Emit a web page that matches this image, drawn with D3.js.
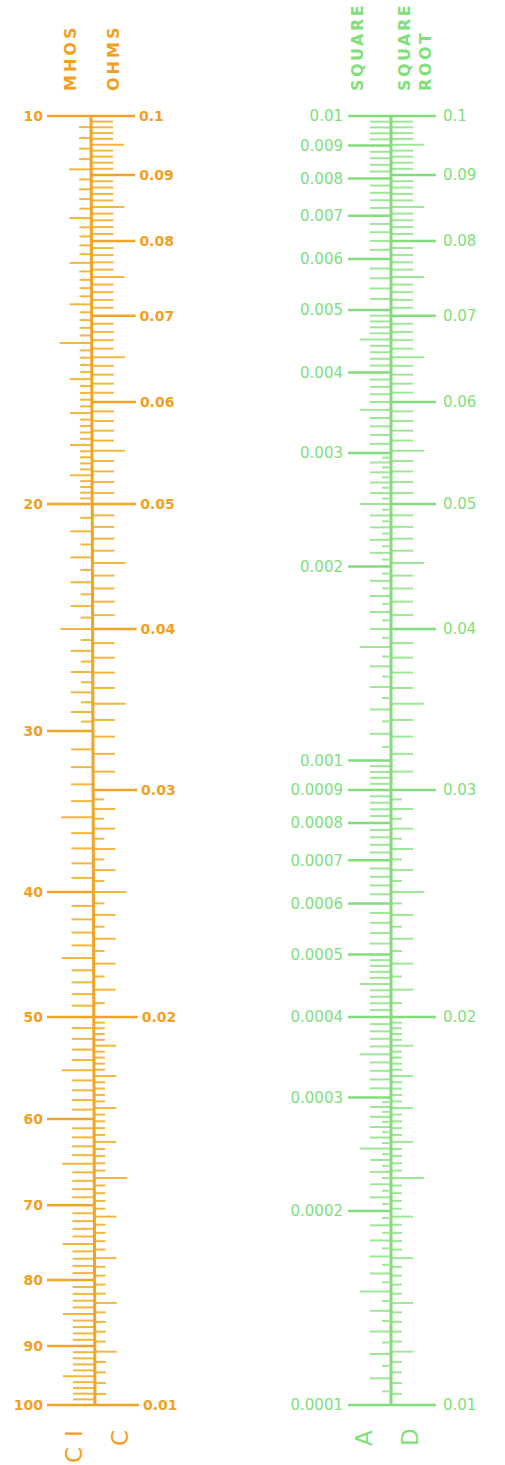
<!DOCTYPE html>
<html><head><meta charset="utf-8">
<script src="https://cdn.jsdelivr.net/npm/d3@7"></script>
<style>body{margin:0;background:#fff} svg{display:block}</style>
</head><body>
<svg id="c" width="505" height="1465"></svg>
<script>
// ---- labelled values ----
const mhosLabels   = [10, 20, 30, 40, 50, 60, 70, 80, 90, 100];
const ohmsLabels   = [0.1, 0.09, 0.08, 0.07, 0.06, 0.05, 0.04, 0.03, 0.02, 0.01];
const squareLabels = [0.01, 0.009, 0.008, 0.007, 0.006, 0.005, 0.004, 0.003, 0.002, 0.001,
                      0.0009, 0.0008, 0.0007, 0.0006, 0.0005, 0.0004, 0.0003, 0.0002, 0.0001];
const rootLabels   = [0.1, 0.09, 0.08, 0.07, 0.06, 0.05, 0.04, 0.03, 0.02, 0.01];
// ---- graduations: [from, to, step] ----
const mhosGrad   = [[10, 20, 0.2], [20, 30, 0.5], [30, 100, 1]];
const ohmsGrad   = [[0.01, 0.02, 0.0002], [0.02, 0.03, 0.0005], [0.03, 0.1, 0.001]];
const squareGrad = [[0.0001, 0.0003, 0.000005], [0.0003, 0.0005, 0.00001], [0.0005, 0.001, 0.00002],
                    [0.001, 0.003, 0.00005], [0.003, 0.005, 0.0001], [0.005, 0.01, 0.0002]];
const rootGrad   = [[0.01, 0.02, 0.0002], [0.02, 0.03, 0.0005], [0.03, 0.1, 0.001]];
// ---- titles ----
const leftTitles  = ["MHOS", "OHMS"];
const rightTitles = ["SQUARE", "SQUARE", "ROOT"];
const leftScaleNames  = ["CI", "C"];
const rightScaleNames = ["A", "D"];

const svg = d3.select("#c");
const Y0 = 116, Y1 = 1405;
const yMhos   = d3.scaleLog().domain([10, 100]).range([Y0, Y1]);
const yOhms   = d3.scaleLog().domain([0.1, 0.01]).range([Y0, Y1]);
const ySquare = d3.scaleLog().domain([0.01, 0.0001]).range([Y0, Y1]);
const yRoot   = d3.scaleLog().domain([0.1, 0.01]).range([Y0, Y1]);

const OR = {text: "#f3a020", tick: "#f2b73e", spine: "#f0a428"};
const GR = {text: "#80e07a", tick: "#9ee796", spine: "#84dc7c"};

const isMult = (v, u) => Math.abs(v / u - Math.round(v / u)) < 1e-6;
const isLabel = (v, arr) => arr.some(a => Math.abs(a - v) / a < 1e-6);
function gradValues(grad) {
  const out = [];
  grad.forEach(([a, b, s]) => {
    const n = Math.round((b - a) / s);
    for (let k = 0; k <= n; k++) out.push(+(a + k * s).toPrecision(10));
  });
  return Array.from(new Set(out));
}

// orange spine slightly tilted
const oSpine = y => 91 + 4 * (y - Y0) / (Y1 - Y0);
const gSpine = () => 391;

const gO = svg.append("g").attr("stroke-linecap", "butt");
const gG = svg.append("g").attr("stroke-linecap", "butt");

// ---------- ORANGE: MHOS (left) ----------
const mhosLen = {1: 12, 2: 22, 3: 32};
gradValues(mhosGrad).filter(v => !isLabel(v, mhosLabels)).forEach(v => {
  const r = isMult(v, 5) ? 3 : isMult(v, 1) ? 2 : 1;
  const y = yMhos(v), x = oSpine(y);
  gO.append("line").attr("x1", x - mhosLen[r]).attr("x2", x).attr("y1", y).attr("y2", y)
    .attr("stroke", OR.tick).attr("stroke-width", 2);
});
// OHMS (right)
const sideLen = {1: 11, 2: 22, 3: 33};
gradValues(ohmsGrad).filter(v => !isLabel(v, ohmsLabels)).forEach(v => {
  const r = isMult(v, 0.005) ? 3 : isMult(v, 0.001) ? 2 : 1;
  const y = yOhms(v), x = oSpine(y);
  gO.append("line").attr("x1", x).attr("x2", x + sideLen[r]).attr("y1", y).attr("y2", y)
    .attr("stroke", OR.tick).attr("stroke-width", 2);
});
// major ticks + labels
mhosLabels.forEach(v => {
  const y = yMhos(v), x = oSpine(y);
  gO.append("line").attr("x1", 47).attr("x2", x).attr("y1", y).attr("y2", y)
    .attr("stroke", OR.spine).attr("stroke-width", 2.5);
  gO.append("text").attr("x", 43).attr("y", y).attr("dy", "0.36em").attr("text-anchor", "end")
    .attr("fill", OR.text).attr("font-family", "DejaVu Sans").attr("font-weight", "bold")
    .attr("font-size", 14).text(v);
});
ohmsLabels.forEach(v => {
  const y = yOhms(v), x = oSpine(y);
  gO.append("line").attr("x1", x).attr("x2", x + 44).attr("y1", y).attr("y2", y)
    .attr("stroke", OR.spine).attr("stroke-width", 2.5);
  gO.append("text").attr("x", x + 48).attr("y", y).attr("dy", "0.36em")
    .attr("fill", OR.text).attr("font-family", "DejaVu Sans").attr("font-weight", "bold")
    .attr("font-size", 14).text(v);
});
gO.append("line").attr("x1", oSpine(Y0)).attr("x2", oSpine(Y1)).attr("y1", Y0 - 1).attr("y2", Y1 + 1)
  .attr("stroke", OR.spine).attr("stroke-width", 3);

// ---------- GREEN: SQUARE (A, left) ----------
const sqLen = {1: 9, 2: 21, 3: 31};
gradValues(squareGrad).filter(v => !isLabel(v, squareLabels)).forEach(v => {
  const d = Math.pow(10, Math.floor(Math.log10(v) + 1e-9));
  const m = v / d;
  let r;
  if (isMult(m, 0.5) && m < 5) r = 3;
  else if (isMult(m, 0.1)) r = 2;
  else r = 1;
  const y = ySquare(v), x = gSpine();
  gG.append("line").attr("x1", x - sqLen[r]).attr("x2", x - (r === 1 ? 2 : 0)).attr("y1", y).attr("y2", y)
    .attr("stroke", GR.tick).attr("stroke-width", 2);
});
// ROOT (D, right)
gradValues(rootGrad).filter(v => !isLabel(v, rootLabels)).forEach(v => {
  const r = isMult(v, 0.005) ? 3 : isMult(v, 0.001) ? 2 : 1;
  const y = yRoot(v), x = gSpine();
  gG.append("line").attr("x1", x).attr("x2", x + sideLen[r]).attr("y1", y).attr("y2", y)
    .attr("stroke", GR.tick).attr("stroke-width", 2);
});
squareLabels.forEach(v => {
  const y = ySquare(v), x = gSpine();
  gG.append("line").attr("x1", 348).attr("x2", x).attr("y1", y).attr("y2", y)
    .attr("stroke", GR.spine).attr("stroke-width", 2.5);
  gG.append("text").attr("x", 343).attr("y", y).attr("dy", "0.36em").attr("text-anchor", "end")
    .attr("fill", GR.text).attr("font-family", "DejaVu Sans")
    .attr("font-size", 15).text(d3.format(".4~f")(v));
});
rootLabels.forEach(v => {
  const y = yRoot(v), x = gSpine();
  gG.append("line").attr("x1", x).attr("x2", 436).attr("y1", y).attr("y2", y)
    .attr("stroke", GR.spine).attr("stroke-width", 2.5);
  gG.append("text").attr("x", 443).attr("y", y).attr("dy", "0.36em")
    .attr("fill", GR.text).attr("font-family", "DejaVu Sans")
    .attr("font-size", 15).text(v);
});
gG.append("line").attr("x1", gSpine()).attr("x2", gSpine()).attr("y1", Y0 - 1).attr("y2", Y1 + 1)
  .attr("stroke", GR.spine).attr("stroke-width", 3);

// ---------- vertical titles ----------
function vtext(str, xBase, yStart, color, size, weight, ls) {
  svg.append("text").attr("transform", `translate(${xBase},${yStart}) rotate(-90)`)
    .attr("fill", color).attr("font-family", "DejaVu Sans").attr("font-weight", weight)
    .attr("font-size", size).attr("letter-spacing", ls).text(str);
}
const titleX = [76, 119];
leftTitles.forEach((t, i) => vtext(t, titleX[i], 91, OR.text, 16, "bold", 3));
const rTitleX = [363, 410, 431];
rightTitles.forEach((t, i) => vtext(t, rTitleX[i], 91, GR.text, 16, "bold", 2.5));
// bottom scale names
vtext(leftScaleNames[0], 82, 1463, OR.text, 23, "normal", 10);
vtext(leftScaleNames[1], 128, 1446, OR.text, 23, "normal", 0);
vtext(rightScaleNames[0], 372, 1446, GR.text, 23, "normal", 0);
vtext(rightScaleNames[1], 418, 1446, GR.text, 23, "normal", 0);
</script>
</body></html>
